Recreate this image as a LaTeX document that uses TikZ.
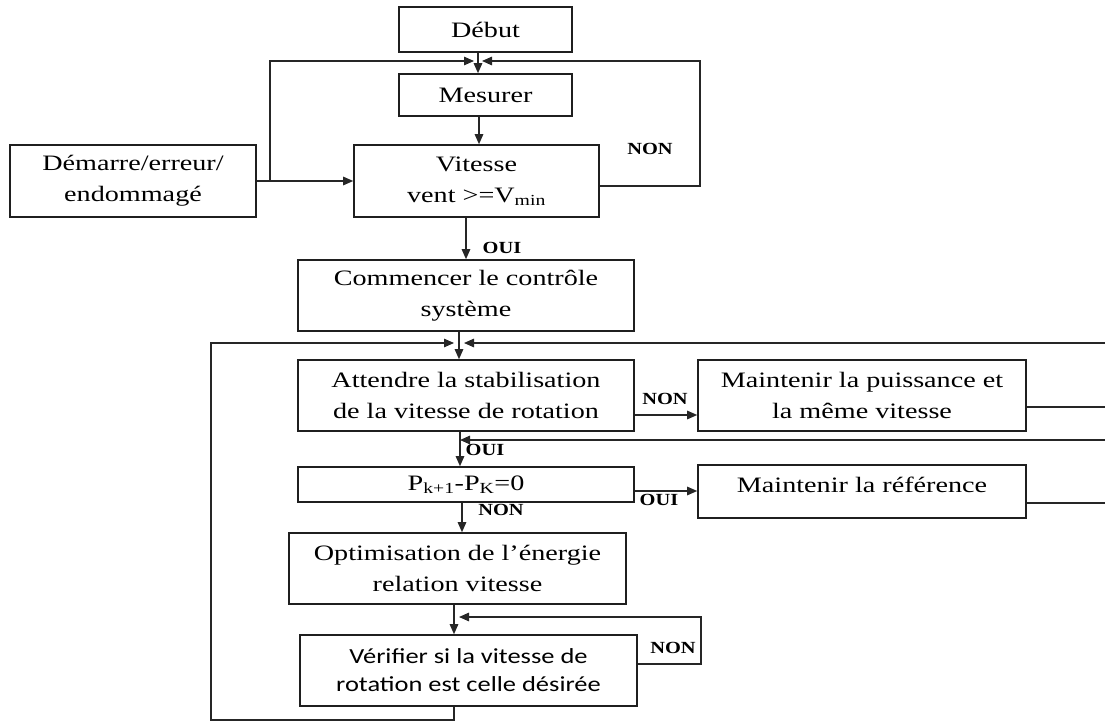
\documentclass[tikz,border=0pt]{standalone}
\usepackage{fontspec}
\setmainfont{Liberation Serif}[FakeStretch=1.28]
\newfontfamily\calfont{Carlito}[FakeStretch=1.23]
\newfontfamily\lblfont{Liberation Serif}[FakeStretch=1.2]
\usetikzlibrary{arrows.meta}

\tikzset{
  box/.style={draw=black!88, line width=1.6pt, inner sep=0pt, align=center,
    font=\fontsize{22}{31}\selectfont},
  plain/.style={inner sep=0pt, align=center, font=\fontsize{22}{31}\selectfont},
  link/.style={draw=black!85, line width=1.3pt},
  arr/.style={link, -{Triangle[length=10pt,width=8.5pt]}},
  lbl/.style={inner sep=0pt, font=\lblfont\bfseries\fontsize{17}{17}\selectfont},
}

\begin{document}
\begin{tikzpicture}[x=1pt,y=-1pt]
  \useasboundingbox (0,0) rectangle (1105,722);
  \clip (0,0) rectangle (1105,722);

  % boxes
  \node[box, minimum width=173pt, minimum height=45pt] (debut) at (485.5,29.5) {Début};
  \node[box, minimum width=173pt, minimum height=42pt] (mesurer) at (485.5,95) {Mesurer};
  \node[box, minimum width=245pt, minimum height=72pt] (vitesse) at (476.5,181)
    {Vitesse\\vent >=V\textsubscript{min}};
  \node[box, minimum width=246pt, minimum height=72pt] (demarre) at (133,181)
    {Démarre/erreur/\\endommagé};
  \node[box, minimum width=336pt, minimum height=71pt] (commencer) at (466,295.5)
    {Commencer le contrôle\\système};
  \node[box, minimum width=336pt, minimum height=71pt] (attendre) at (466,395.5)
    {Attendre la stabilisation\\de la vitesse de rotation};
  \node[box, minimum width=328pt, minimum height=71pt] (puissance) at (862,395.5)
    {Maintenir la puissance et\\la même vitesse};
  \node[box, minimum width=336pt, minimum height=35pt] (pk) at (466,484.5)
    {P\textsubscript{k+1}-P\textsubscript{K}=0};
  \node[box, minimum width=328pt, minimum height=53pt] (reference) at (862,491.5) {};
  \node[plain] (reftext) at (862,485) {Maintenir la référence};
  \node[box, minimum width=337pt, minimum height=71pt] (optim) at (457.5,568.5)
    {Optimisation de l’énergie\\relation vitesse};
  \node[box, minimum width=337pt, minimum height=71pt,
        font=\calfont\fontsize{21.5}{28}\selectfont] (verifier) at (468.5,670.5)
    {Vérifier si la vitesse de\\rotation est celle désirée};

  % junction points and loop corners
  \coordinate (jtop) at (478,61);
  \coordinate (tl) at (270,61);
  \coordinate (tr) at (700,61);
  \coordinate (mv) at (479,0);
  \coordinate (ja) at (459,343);
  \coordinate (ll) at (211,720);
  \coordinate (rt) at (1115,343);
  \coordinate (jp) at (460,440);
  \coordinate (rr) at (1110,440);
  \coordinate (po) at (462,0);
  \coordinate (vb) at (454,720);
  \coordinate (vr) at (701,617);
  \coordinate (vj) at (459,617);
  \coordinate (rowa) at (0,415);
  \coordinate (rowp) at (0,491);
  \coordinate (rowv) at (0,664);

  % top part
  \draw[arr] (debut.south -| jtop) -- (mesurer.north -| jtop);
  \draw[arr, shorten >=4pt] (demarre.east) -| (tl) -- (jtop);
  \draw[arr, shorten >=4pt] ([yshift=-5pt]vitesse.east) -| (tr) -- (jtop);
  \draw[arr] (mesurer.south -| mv) -- (vitesse.north -| mv);
  \draw[arr] (demarre.east) -- (vitesse.west);
  \draw[arr] (vitesse.south -| commencer.north) -- (commencer.north);

  % control loop
  \draw[arr] (commencer.south -| ja) -- (attendre.north -| ja);
  \draw[arr, shorten >=5pt] (verifier.south -| vb) -- (vb) -| (ll) |- (ja);
  \draw[arr, shorten >=5pt] ([yshift=-11.5pt]puissance.east) -| (rt) -- (ja);
  \draw[arr] (attendre.south -| jp) -- (pk.north -| jp);
  \draw[arr] ([yshift=-11.5pt]reference.east) -| (rr) -- (jp);
  \draw[arr] (attendre.east |- rowa) -- (puissance.west |- rowa);
  \draw[arr] (pk.east |- rowp) -- (reference.west |- rowp);
  \draw[arr] (pk.south -| po) -- (optim.north -| po);
  \draw[arr] (optim.south -| vb) -- (verifier.north -| vb);
  \draw[arr] (verifier.east |- rowv) -| (vr) -- (vj);

  % branch labels
  \node[lbl] (nonv) at (650,149) {NON};
  \node[lbl] (ouiv) at (502,248) {OUI};
  \node[lbl] (nona) at (665,399) {NON};
  \node[lbl] (ouia) at (485,450) {OUI};
  \node[lbl] (ouip) at (659,500) {OUI};
  \node[lbl] (nonp) at (501,510) {NON};
  \node[lbl] (nonf) at (673,648) {NON};
\end{tikzpicture}
\end{document}
